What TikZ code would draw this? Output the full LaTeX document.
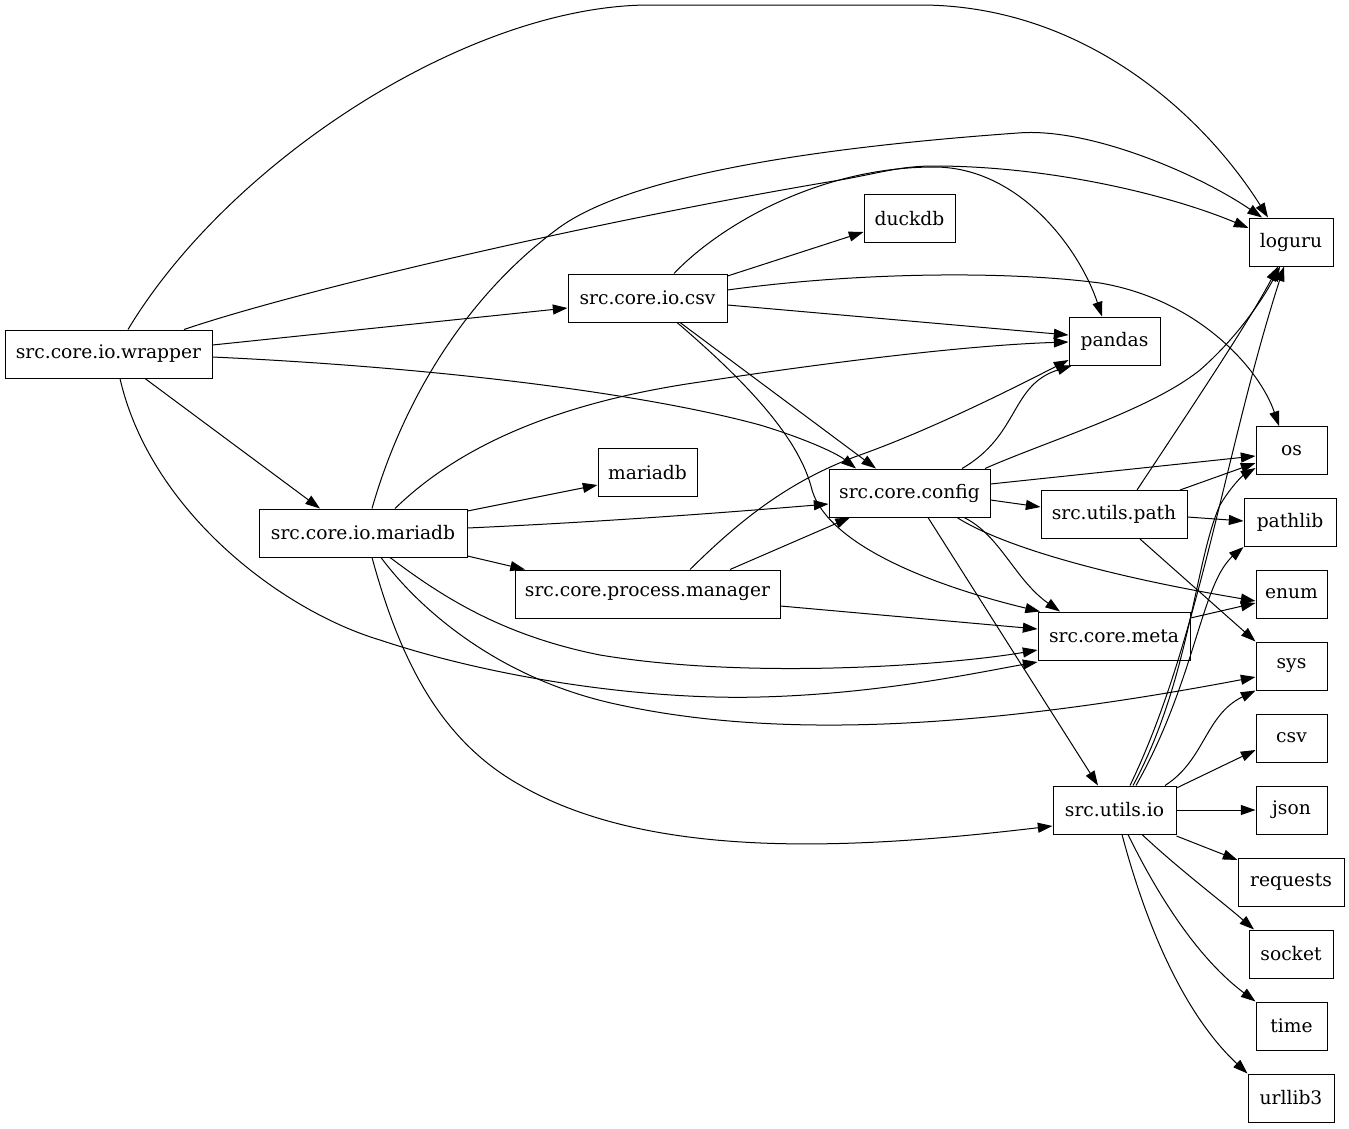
\documentclass[tikz,border=0pt]{standalone}
\usepackage{fontspec}
\setmainfont{DejaVu Serif}
\usetikzlibrary{arrows.meta}
\tikzset{
  box/.style={draw, rectangle, line width=0.75pt, minimum height=36pt, inner sep=0pt, font=\fontsize{14pt}{16pt}\selectfont},
  edge/.style={draw, line width=0.75pt, -{Triangle[length=11pt,width=7.5pt]}}
}
\begin{document}
\begin{tikzpicture}[x=0.75pt,y=-0.75pt]
\useasboundingbox (0,0) rectangle (1349,1128);
% nodes
\node[box, minimum width=207*0.75pt] (wrapper) at (108.5,354) {src.core.io.wrapper};
\node[box, minimum width=159*0.75pt] (iocsv) at (647.5,298) {src.core.io.csv};
\node[box, minimum width=91*0.75pt] (duckdb) at (909.5,218.5) {duckdb};
\node[box, minimum width=84*0.75pt] (loguru) at (1291,242) {loguru};
\node[box, minimum width=91*0.75pt] (pandas) at (1114.5,341) {pandas};
\node[box, minimum width=71*0.75pt] (os) at (1291.5,450.5) {os};
\node[box, minimum width=99*0.75pt] (mariadbmod) at (647.5,472.5) {mariadb};
\node[box, minimum width=161*0.75pt] (config) at (909.5,493) {src.core.config};
\node[box, minimum width=208*0.75pt] (iomariadb) at (363,533) {src.core.io.mariadb};
\node[box, minimum width=146*0.75pt] (upath) at (1114,514.5) {src.utils.path};
\node[box, minimum width=92*0.75pt] (pathlib) at (1290,522.5) {pathlib};
\node[box, minimum width=71*0.75pt] (enum) at (1291.5,594) {enum};
\node[box, minimum width=265*0.75pt] (pm) at (647.5,594) {src.core.process.manager};
\node[box, minimum width=152*0.75pt] (meta) at (1114,636) {src.core.meta};
\node[box, minimum width=71*0.75pt] (sys) at (1291.5,666) {sys};
\node[box, minimum width=71*0.75pt] (csvmod) at (1291.5,738) {csv};
\node[box, minimum width=123*0.75pt] (uio) at (1114.5,810) {src.utils.io};
\node[box, minimum width=71*0.75pt] (json) at (1291.5,810) {json};
\node[box, minimum width=106*0.75pt] (requests) at (1291,882) {requests};
\node[box, minimum width=84*0.75pt] (socket) at (1291,954) {socket};
\node[box, minimum width=71*0.75pt] (time) at (1291.5,1026) {time};
\node[box, minimum width=86*0.75pt] (urllib3) at (1291,1098) {urllib3};
% wrapper
\draw[edge] (wrapper.north -| 128,0) .. controls (230,160) and (470,5) .. (650,5) -- (920,5) .. controls (1080,5) and (1200,110) .. (loguru.north -| 1268,0);
\draw[edge] (wrapper.north -| 184,0) .. controls (300,290) and (600,220) .. (840,180) .. controls (880,173) and (900,166) .. (934,166) .. controls (1050,166) and (1170,195) .. (loguru.west |- 0,228);
\draw[edge] (wrapper.east |- 0,345) -- (iocsv.west |- 0,308);
\draw[edge] (wrapper.south -| 145,0) -- (iomariadb.north -| 320,0);
\draw[edge] (wrapper.east |- 0,357) .. controls (450,368) and (650,395) .. (760,425) .. controls (800,437) and (835,452) .. (config.north -| 856,0);
\draw[edge] (wrapper.south -| 120,0) .. controls (150,510) and (280,610) .. (380,640) .. controls (500,680) and (650,700) .. (760,697) .. controls (880,694) and (980,672) .. (meta.west |- 0,662);
% csv
\draw[edge] (iocsv.north -| 674,0) .. controls (720,225) and (820,167) .. (934,167) .. controls (1020,167) and (1080,250) .. (pandas.north -| 1102,0);
\draw[edge] (iocsv.east |- 0,276) -- (duckdb.west |- 0,232);
\draw[edge] (iocsv.east |- 0,290) .. controls (850,273) and (1000,270) .. (1100,283) .. controls (1200,300) and (1260,370) .. (os.north -| 1279,0);
\draw[edge] (iocsv.east |- 0,305) -- (pandas.west |- 0,335);
\draw[edge] (iocsv.south -| 680,0) -- (config.north -| 876,0);
\draw[edge] (iocsv.south -| 677,0) .. controls (750,385) and (800,440) .. (812,490) .. controls (830,550) and (950,590) .. (meta.north -| 1040,0);
% io.mariadb
\draw[edge] (iomariadb.north -| 372,0) .. controls (400,410) and (460,300) .. (560,227) .. controls (640,170) and (850,145) .. (1018,133) .. controls (1090,127) and (1200,175) .. (loguru.north -| 1262,0);
\draw[edge] (iomariadb.north -| 395,0) .. controls (450,455) and (540,405) .. (700,382) .. controls (830,362) and (970,345) .. (pandas.west |- 0,342);
\draw[edge] (iomariadb.east |- 0,511) -- (mariadbmod.west |- 0,485);
\draw[edge] (iomariadb.east |- 0,528) .. controls (600,522) and (720,513) .. (config.west |- 0,504);
\draw[edge] (iomariadb.east |- 0,556) -- (pm.north -| 525,0);
\draw[edge] (iomariadb.south -| 390,0) .. controls (440,595) and (500,635) .. (600,655) .. controls (750,680) and (950,665) .. (meta.west |- 0,650);
\draw[edge] (iomariadb.south -| 381,0) .. controls (420,610) and (500,680) .. (620,705) .. controls (760,735) and (950,735) .. (sys.west |- 0,677);
\draw[edge] (iomariadb.south -| 372,0) .. controls (400,660) and (440,740) .. (520,785) .. controls (650,860) and (850,850) .. (uio.west |- 0,826);
% process.manager
\draw[edge] (pm.north -| 690,0) .. controls (740,520) and (790,480) .. (860,455) .. controls (930,430) and (1010,390) .. (pandas.west |- 0,360);
\draw[edge] (pm.north -| 730,0) -- (config.south -| 850,0);
\draw[edge] (pm.east |- 0,606) -- (meta.west |- 0,629);
% config
\draw[edge] (config.north -| 962,0) .. controls (1020,435) and (1010,385) .. (pandas.south -| 1072,0);
\draw[edge] (config.north -| 985,0) .. controls (1050,440) and (1150,410) .. (1200,370) .. controls (1240,335) and (1265,295) .. (loguru.south -| 1280,0);
\draw[edge] (config.east |- 0,484) -- (os.west |- 0,456);
\draw[edge] (config.east |- 0,500) -- (upath.west |- 0,507);
\draw[edge] (config.south -| 957,0) .. controls (1000,545) and (1100,575) .. (enum.west |- 0,601);
\draw[edge] (config.south -| 964,0) .. controls (1000,535) and (1015,580) .. (meta.north -| 1060,0);
\draw[edge] (config.south -| 928,0) -- (uio.north -| 1098,0);
% utils.path
\draw[edge] (upath.north -| 1137,0) .. controls (1190,410) and (1250,320) .. (loguru.south -| 1278,0);
\draw[edge] (upath.north -| 1180,0) -- (os.west |- 0,463);
\draw[edge] (upath.east |- 0,517) -- (pathlib.west |- 0,521);
\draw[edge] (upath.south -| 1140,0) -- (sys.north west);
% meta
\draw[edge] (meta.east |- 0,618) -- (enum.west |- 0,603);
% utils.io
\draw[edge] (uio.north -| 1130,0) .. controls (1200,640) and (1225,450) .. (loguru.south -| 1284,0);
\draw[edge] (uio.north -| 1133,0) .. controls (1190,680) and (1195,560) .. (1220,505) .. controls (1230,488) and (1242,476) .. (os.west |- 0,468);
\draw[edge] (uio.north -| 1136,0) .. controls (1190,690) and (1200,600) .. (1225,565) .. controls (1232,555) and (1240,550) .. (pathlib.south west);
\draw[edge] (uio.north -| 1165,0) .. controls (1205,760) and (1205,715) .. (sys.south west);
\draw[edge] (uio.east |- 0,788) -- (csvmod.west |- 0,750);
\draw[edge] (uio.east) -- (json.west);
\draw[edge] (uio.east |- 0,836) -- (requests.west |- 0,860);
\draw[edge] (uio.south -| 1142,0) .. controls (1180,870) and (1220,900) .. (socket.north -| 1254,0);
\draw[edge] (uio.south -| 1128,0) .. controls (1160,900) and (1200,960) .. (time.north west);
\draw[edge] (uio.south -| 1122,0) .. controls (1150,940) and (1190,1020) .. (urllib3.north west);
\end{tikzpicture}
\end{document}
